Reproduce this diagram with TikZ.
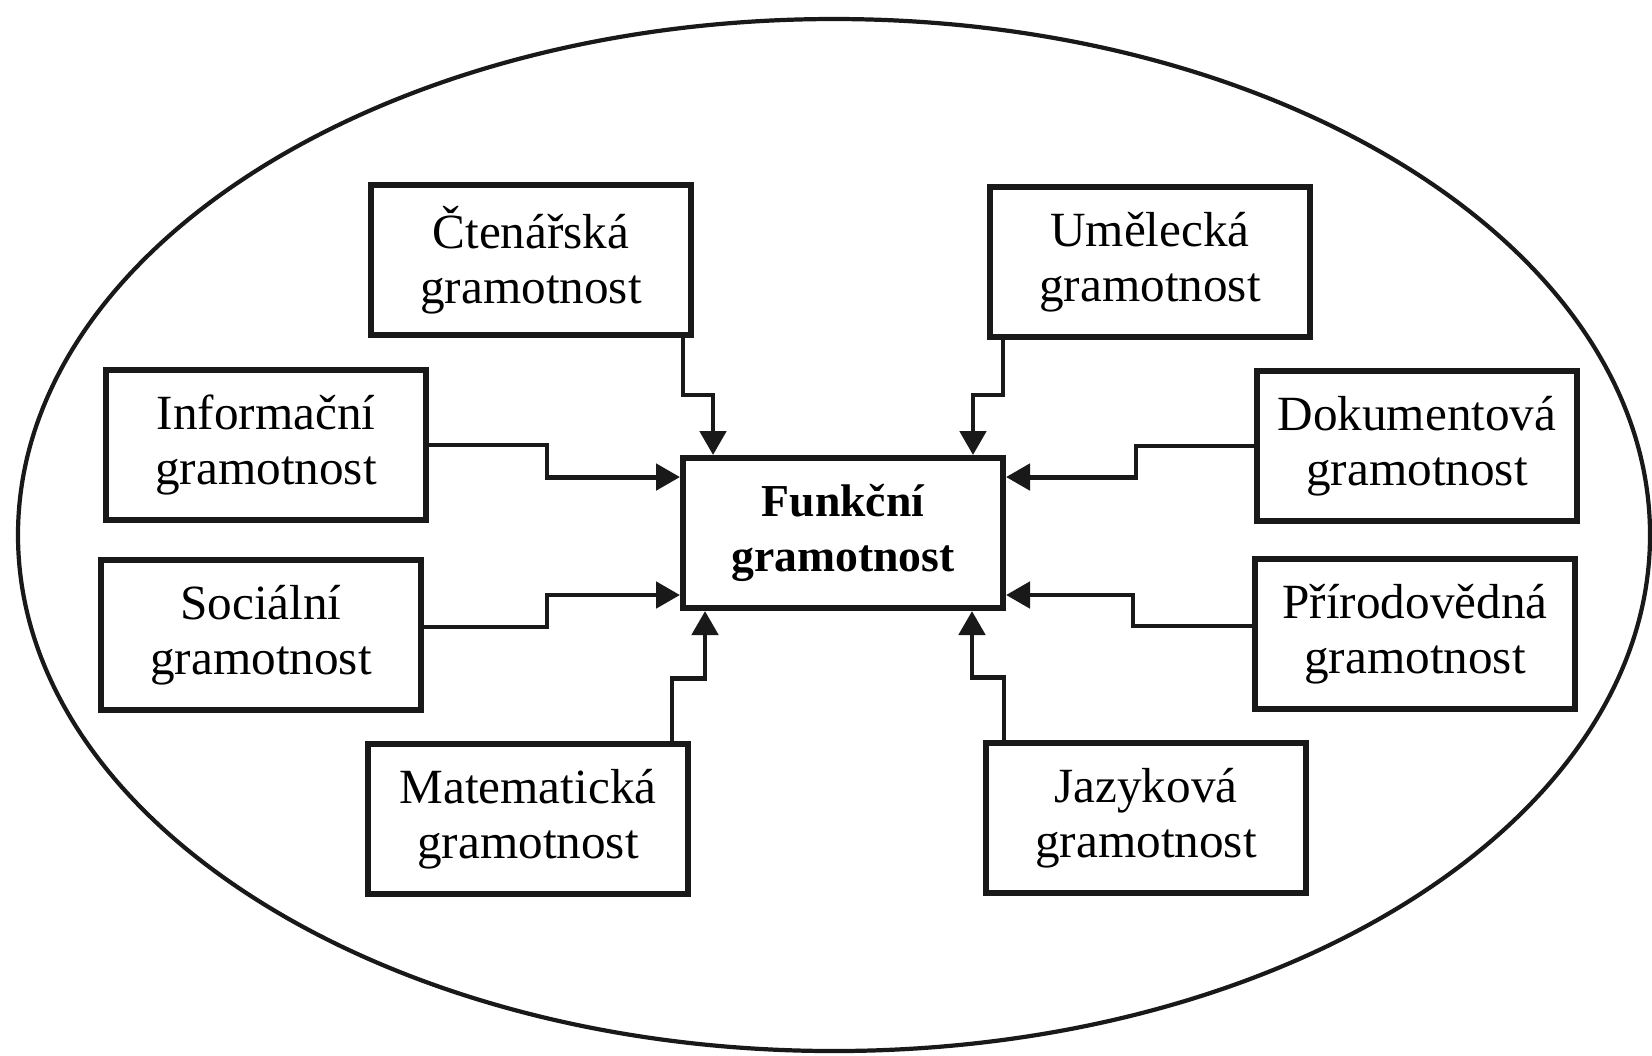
\documentclass[tikz,border=0pt]{standalone}
\usepackage{fontspec}
\setmainfont{Liberation Serif}
\usetikzlibrary{arrows.meta,positioning}
\tikzset{
  litbox/.style = {draw=black!90, line width=1.7pt, minimum width=3.20cm, minimum height=1.50cm, inner sep=2pt, align=center, font=\fontsize{14}{15.6}\selectfont},
  mainbox/.style = {litbox, font=\fontsize{13}{15.6}\selectfont\bfseries},
  litarrow/.style = {-{Triangle[length=2.4mm,width=2.6mm]}, draw=black!90, line width=1.4pt},
  outline/.style = {draw=black!90, line width=1.2pt},
}
\begin{document}
\begin{tikzpicture}
\useasboundingbox (0,0) rectangle (16.52,-10.55);

% surrounding ellipse
\draw[outline] (8.34,-5.35) ellipse [x radius=8.16cm, y radius=5.16cm];

% centre
\node[mainbox] (funk) at (8.43,-5.33) {Funkční\\gramotnost};

% left side
\node[litbox] (cten) at (5.31,-2.60) {Čtenářská\\gramotnost};
\node[litbox] (info) at (2.66,-4.45) {Informační\\gramotnost};
\node[litbox] (soc)  at (2.61,-6.35) {Sociální\\gramotnost};
\node[litbox] (mat)  at (5.28,-8.19) {Matematická\\gramotnost};

% right side
\node[litbox] (umel) at (11.50,-2.62) {Umělecká\\gramotnost};
\node[litbox] (doku) at (14.17,-4.46) {Dokumentová\\gramotnost};
\node[litbox] (prir) at (14.15,-6.34) {Přírodovědná\\gramotnost};
\node[litbox] (jaz)  at (11.46,-8.18) {Jazyková\\gramotnost};

% arrows into the centre
\draw[litarrow] ([xshift=-0.11cm]cten.south east) -- ++(0,-0.57) -| ([xshift=0.33cm]funk.north west);
\draw[litarrow] ([xshift=0.16cm]umel.south west) -- ++(0,-0.55) -| ([xshift=-0.33cm]funk.north east);
\draw[litarrow] (info.east) -- ++(1.18,0) |- ([yshift=-0.22cm]funk.north west);
\draw[litarrow] ([yshift=0.08cm]soc.east) -- ++(1.23,0) |- ([yshift=0.16cm]funk.south west);
\draw[litarrow] (doku.west) -- ++(-1.18,0) |- ([yshift=-0.22cm]funk.north east);
\draw[litarrow] ([yshift=0.08cm]prir.west) -- ++(-1.19,0) |- ([yshift=0.16cm]funk.south east);
\draw[litarrow] ([xshift=-0.19cm]mat.north east) -- ++(0,0.63) -| ([xshift=0.25cm]funk.south west);
\draw[litarrow] ([xshift=0.21cm]jaz.north west) -- ++(0,0.63) -| ([xshift=-0.34cm]funk.south east);

\end{tikzpicture}
\end{document}
